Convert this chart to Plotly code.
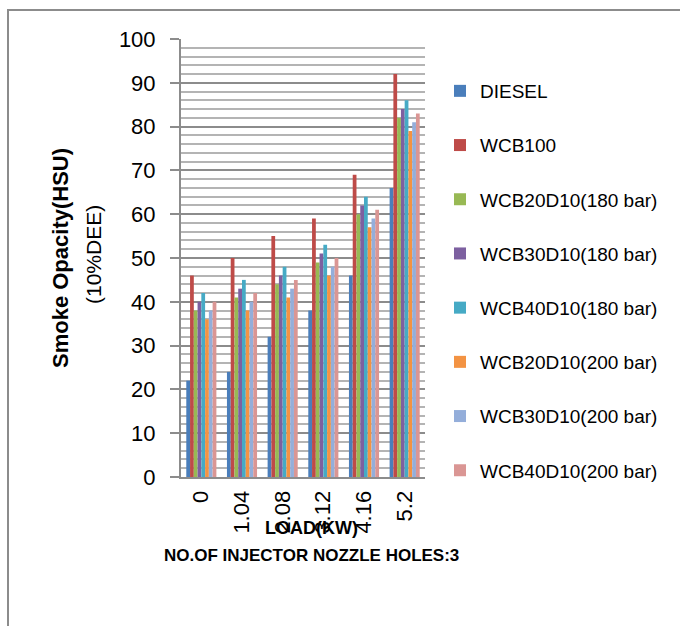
import plotly.graph_objects as go

# Engine load (kW) categories
loads = ["0", "1.04", "2.08", "3.12", "4.16", "5.2"]

# Smoke opacity (HSU) for each fuel blend
diesel = [22, 24, 32, 38, 46, 66]
wcb100 = [46, 50, 55, 59, 69, 92]
wcb20d10_180 = [38, 41, 44, 49, 60, 82]
wcb30d10_180 = [40, 43, 46, 51, 62, 84]
wcb40d10_180 = [42, 45, 48, 53, 64, 86]
wcb20d10_200 = [36, 38, 41, 46, 57, 79]
wcb30d10_200 = [38, 40, 43, 48, 59, 81]
wcb40d10_200 = [40, 42, 45, 50, 61, 83]

series_names = ["DIESEL", "WCB100", "WCB20D10(180 bar)", "WCB30D10(180 bar)",
                "WCB40D10(180 bar)", "WCB20D10(200 bar)", "WCB30D10(200 bar)",
                "WCB40D10(200 bar)"]
series_values = [diesel, wcb100, wcb20d10_180, wcb30d10_180, wcb40d10_180,
                 wcb20d10_200, wcb30d10_200, wcb40d10_200]
colors = ["#4A7EBB", "#BE4B48", "#98B954", "#7D60A0", "#46AAC5",
          "#F39343", "#94AEDA", "#DA9694"]

FONT = "Liberation Sans"

fig = go.Figure()
for name, vals, col in zip(series_names, series_values, colors):
    fig.add_trace(go.Bar(
        x=loads, y=vals, name=name, legendgroup=name,
        marker=dict(color=col, line=dict(width=0)),
    ))

# plot area in pixels: x 181..425, y 39..477
L, R, T, B = 181, 425, 39, 477
W, H = 680, 626
pw, ph = R - L, B - T

def px_x(p):
    return (p - L) / pw

def px_y(p):
    return (B - p) / ph

def label(text, x, y, size, angle=0):
    return dict(text=text, textangle=angle, xref="paper", yref="paper",
                x=px_x(x), y=px_y(y), xanchor="center", yanchor="middle",
                showarrow=False, font=dict(family=FONT, size=size, color="black"))

fig.update_layout(
    width=W, height=H,
    margin=dict(l=L, r=W - R, t=T, b=H - B, autoexpand=False),
    paper_bgcolor="white", plot_bgcolor="white",
    barmode="group", bargap=0.26, bargroupgap=0,
    font=dict(family=FONT, color="black"),
    showlegend=True,
    legend=dict(
        x=px_x(440), xanchor="left",
        y=px_y(72), yanchor="top",
        font=dict(family=FONT, size=19, color="black"),
        tracegroupgap=26.5, itemwidth=30, maxheight=1,
        bgcolor="rgba(0,0,0,0)",
    ),
    xaxis=dict(
        type="category", showgrid=False, zeroline=False,
        showline=True, linecolor="#8C8C8C", linewidth=2,
        ticks="", tickangle=-90, ticklabelstandoff=3,
        tickfont=dict(family=FONT, size=22, color="black"),
    ),
    yaxis=dict(
        range=[0, 100], dtick=10, tick0=0,
        showgrid=True, gridcolor="#8C8C8C", gridwidth=2,
        minor=dict(dtick=2, showgrid=True, gridcolor="#B4B4B4", gridwidth=2, ticks=""),
        showline=True, linecolor="#8C8C8C", linewidth=2,
        ticks="outside", ticklen=9, tickcolor="#8C8C8C", tickwidth=2,
        ticklabelstandoff=10, zeroline=False,
        tickfont=dict(family=FONT, size=22, color="black"),
    ),
    shapes=[
        dict(type="rect", xref="paper", yref="paper",
             x0=px_x(8), x1=px_x(700), y0=px_y(660), y1=px_y(10),
             line=dict(color="#8C8C8C", width=2), fillcolor="rgba(0,0,0,0)",
             layer="below"),
    ],
    annotations=[
        label("<b>Smoke Opacity(HSU)</b>", 60, 258, 22, -90),
        label("(10%DEE)", 93, 255, 21, -90),
        label("<b>LOAD(KW)</b>", 311, 528, 18),
        label("<b>NO.OF INJECTOR NOZZLE HOLES:3</b>", 311, 555, 17),
    ],
)

fig.write_html("out.html")
